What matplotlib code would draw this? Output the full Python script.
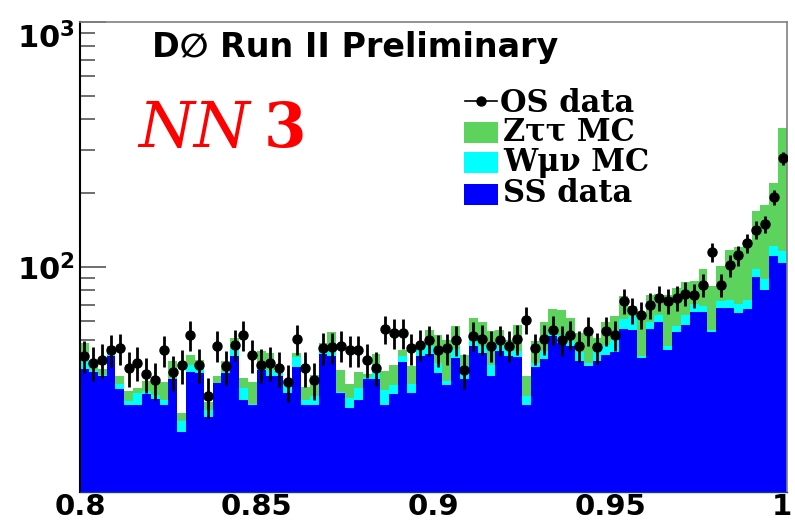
import numpy as np
import matplotlib
matplotlib.use('Agg')
import matplotlib.pyplot as plt
from matplotlib.patches import Rectangle
from matplotlib.lines import Line2D
from matplotlib.ticker import LogLocator, NullFormatter
from matplotlib.transforms import ScaledTranslation

# 80 bins between 0.8 and 1.0
bin_lo, bin_hi, n_bins = 0.8, 1.0, 80

# same-sign data (blue)
ss = [38.2, 37.1, 35.6, 43.3, 31.6, 27.3, 27.3, 30.3, 28.8, 27.3,
      34.6, 21.2, 37.2, 36.9, 24.2, 33.4, 36.7, 43.3, 28.5, 27.3,
      37.9, 35.9, 35.9, 30.4, 39.0, 27.3, 27.3, 44.1, 43.3, 30.4,
      26.4, 28.4, 34.8, 34.8, 27.3, 30.3, 40.9, 30.4, 43.3, 44.1,
      36.7, 32.7, 42.4, 34.8, 47.3, 44.4, 35.9, 45.4, 43.0, 42.8,
      27.3, 39.0, 42.0, 52.3, 48.8, 47.6, 41.0, 39.2, 41.1, 43.7,
      45.0, 55.8, 55.3, 42.4, 55.8, 59.2, 45.6, 54.0, 58.0, 65.3,
      65.5, 54.2, 67.8, 67.8, 64.7, 67.2, 90.8, 80.6, 110.2, 103.5]
# W -> mu nu MC (cyan)
w_mc = [3.2, 0.8, 0.6, 2.1, 1.6, 0.9, 3.1, 0.8, 1.2, 1.3,
        0.3, 2.2, 2.6, 2.2, 1.8, 0.2, 0.5, 2.9, 3.5, 0.2,
        1.1, 2.0, 1.2, 2.3, 3.6, 1.1, 2.3, 2.1, 2.9, 0.4,
        2.8, 3.5, 0.7, 2.9, 4.1, 2.6, 2.4, 2.8, 2.5, 3.2,
        3.7, 1.3, 3.8, 1.9, 3.8, 2.9, 3.9, 3.4, 2.8, 2.6,
        2.3, 1.4, 3.4, 1.7, 4.0, 2.3, 4.0, 1.2, 4.0, 4.3,
        5.3, 5.4, 7.4, 0.6, 3.4, 4.5, 1.7, 3.1, 5.7, 5.3,
        3.3, 1.1, 4.8, 5.3, 5.9, 6.2, 7.3, 8.7, 10.8, 11.9]
# Z -> tau tau MC (green)
z_mc = [7.4, 2.5, 2.0, 2.2, 2.7, 2.7, 1.5, 2.9, 4.0, 5.1,
        6.1, 1.9, 3.9, 2.6, 1.9, 2.0, 3.8, 4.9, 3.1, 6.3,
        6.4, 6.5, 0.3, 1.8, 1.8, 3.8, 6.6, 2.6, 7.9, 6.9,
        4.0, 5.2, 1.0, 6.4, 6.0, 6.6, 2.5, 6.0, 3.0, 8.0,
        12.4, 16.3, 10.9, 6.7, 10.7, 11.9, 14.7, 6.5, 4.5, 12.6,
        6.3, 9.1, 13.8, 13.2, 14.0, 12.0, 8.8, 12.4, 6.0, 11.2,
        12.8, 14.5, 6.1, 20.7, 17.7, 13.7, 29.6, 24.7, 22.6, 16.5,
        29.3, 28.4, 27.7, 44.2, 50.3, 55.5, 71.1, 89.7, 98.6, 252.6]
# opposite-sign data (points)
os_data = [43.3, 40.5, 41.7, 45.8, 46.5, 38.5, 40.4, 36.5, 34.5, 45.5,
           37.2, 39.5, 52.5, 39.8, 29.6, 47.6, 39.1, 48.0, 52.5, 43.4,
           39.8, 40.4, 38.5, 33.8, 50.6, 38.5, 34.5, 46.6, 46.8, 47.6,
           45.5, 45.5, 41.7, 38.6, 55.7, 53.6, 53.6, 46.5, 48.0, 50.3,
           45.8, 46.5, 50.3, 37.9, 52.3, 50.6, 47.6, 50.3, 47.6, 50.6,
           60.8, 46.5, 50.6, 55.3, 50.3, 52.8, 47.6, 54.8, 46.8, 54.8,
           52.5, 72.6, 66.3, 63.7, 69.5, 74.5, 72.6, 74.5, 77.6, 76.4,
           84.4, 114.8, 84.4, 101.2, 111.2, 124.5, 141.6, 149.3, 192.5, 277.7]

ss = np.array(ss)
w_mc = np.array(w_mc)
z_mc = np.array(z_mc)
os_data = np.array(os_data)

edges = np.linspace(bin_lo, bin_hi, n_bins + 1)
centers = 0.5 * (edges[1:] + edges[:-1])

green = '#5cd35c'
cyan = '#00ffff'
blue = '#0000ff'

W, H = 795, 522
def fx(px):
    return px / W
def fy(py):
    return 1 - py / H

plt.rcParams['font.family'] = ['DejaVu Sans']
plt.rcParams['mathtext.fontset'] = 'dejavusans'

fig = plt.figure(figsize=(W / 100, H / 100), dpi=100)
ax = fig.add_axes([fx(80), fy(492), (787 - 80) / W, (492 - 22) / H])

# stacked histogram: draw the full stack first, then the lower layers on top
ax.stairs(ss + w_mc + z_mc, edges, baseline=1, fill=True, color=green, lw=0)
ax.stairs(ss + w_mc, edges, baseline=1, fill=True, color=cyan, lw=0)
ax.stairs(ss, edges, baseline=1, fill=True, color=blue, lw=0)

ax.errorbar(centers, os_data, yerr=np.sqrt(os_data), fmt='o', color='k',
            ms=6.5, elinewidth=2, capsize=0, zorder=3)

ax.set_yscale('log')
ax.set_ylim(12, 1000)
ax.set_xlim(bin_lo, bin_hi)
ax.set_axisbelow(True)

ax.set_xticks([0.8, 0.85, 0.9, 0.95, 1.0], ['0.8', '0.85', '0.9', '0.95', '1'])
ax.set_yticks([100, 1000], [r'$\mathbf{10^{2}}$', r'$\mathbf{10^{3}}$'])
ax.yaxis.set_minor_locator(LogLocator(subs=range(2, 10)))
ax.yaxis.set_minor_formatter(NullFormatter())
ax.tick_params(axis='y', which='major', direction='in', length=19, width=1.2,
               color='#555555', labelsize=22, pad=4)
ax.tick_params(axis='y', which='minor', direction='in', length=11, width=1.2,
               color='#555555')
ax.tick_params(axis='x', which='both', length=0, labelsize=21, pad=1)
for lab in ax.get_xticklabels():
    lab.set_fontweight('bold')
# keep the last label "1" inside the picture
last = ax.get_xticklabels()[-1]
last.set_transform(last.get_transform() + ScaledTranslation(-5 / 100, 0, fig.dpi_scale_trans))
# the top label sits just below the frame edge, as in the original
ax.get_yticklabels()[1].set_va('top')

ax.spines['left'].set_linewidth(1.5)
ax.spines['left'].set_color('black')
for s in ['top', 'right']:
    ax.spines[s].set_color('#808080')
    ax.spines[s].set_linewidth(1.2)
ax.spines['bottom'].set_color('#1a3a8a')
ax.spines['bottom'].set_linewidth(1)

# labels
fig.text(fx(152), fy(48), 'D\u2205 Run II Preliminary', fontsize=24,
         fontweight='bold', va='center', ha='left')
fig.text(fx(138), fy(147), 'NN', fontsize=46, style='italic',
         family='DejaVu Serif', color='red', va='baseline', ha='left')
fig.text(fx(264), fy(147), '3', fontsize=44, fontweight='bold',
         family='DejaVu Serif', color='red', va='baseline', ha='left')

# legend
leg_font = dict(family='DejaVu Serif', fontweight='bold', fontsize=22,
                va='center', ha='left')
fig.add_artist(Line2D([fx(465), fx(497)], [fy(101), fy(101)], color='k', lw=1.2))
fig.add_artist(Line2D([fx(481)], [fy(101)], color='k', marker='o', ms=6.5))
fig.text(fx(500), fy(104), 'OS data', **leg_font)
rows = [(green, 'Z\u03c4\u03c4 MC', 132), (cyan, 'W\u03bc\u03bd MC', 162.5),
        (blue, 'SS data', 194)]
for col, lab, yc in rows:
    fig.add_artist(Rectangle((fx(464), fy(yc + 10.5)), 34 / W, 21 / H,
                             transform=fig.transFigure, color=col, lw=0))
    fig.text(fx(503), fy(yc), lab, **leg_font)

fig.savefig('out.png', dpi=100)
